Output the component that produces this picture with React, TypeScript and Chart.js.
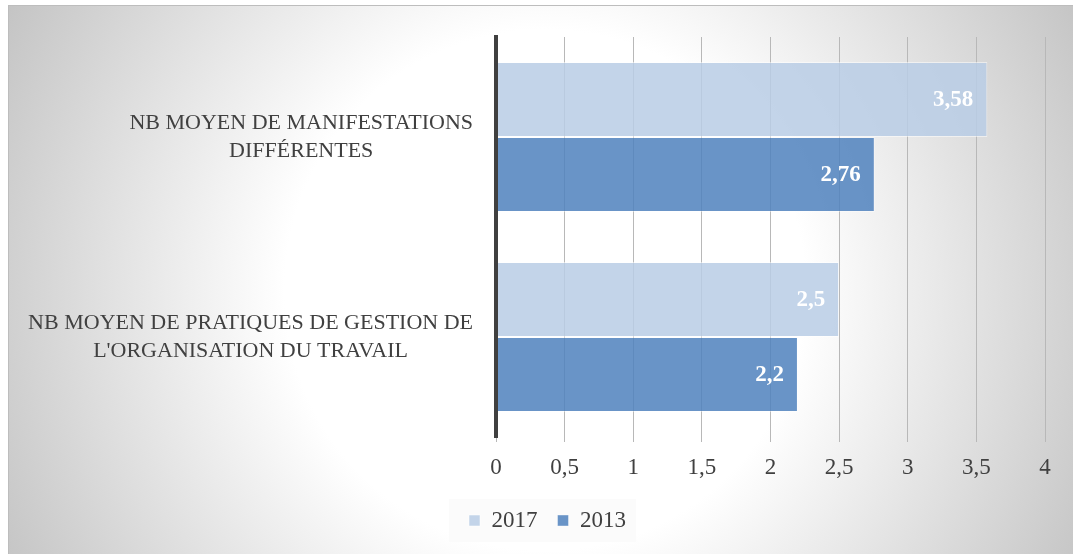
import React, { useEffect, useRef } from "react";
import { Chart, registerables } from "chart.js";

Chart.register(...registerables);

const categories: string[][] = [
  ["NB MOYEN DE MANIFESTATIONS", "DIFFÉRENTES"],
  ["NB MOYEN DE PRATIQUES DE GESTION DE", "L'ORGANISATION DU TRAVAIL"],
];
const seriesLabels = ["2017", "2013"];
const values2017 = [3.58, 2.5];
const values2013 = [2.76, 2.2];
const xTickValues = [0, 0.5, 1, 1.5, 2, 2.5, 3, 3.5, 4];

const FONT = "'Liberation Serif', 'Times New Roman', serif";
const TEXT = "#404040";

const fmt = (v: number) => String(v).replace(".", ",");

const backgroundPlugin = {
  id: "bgPlugin",
  beforeDraw(chart: any) {
    const { ctx, width, height } = chart;
    ctx.save();
    ctx.fillStyle = "#ffffff";
    ctx.fillRect(0, 0, width, height);
    const x0 = 9;
    const y0 = 6;
    const cx = 545;
    const cy = 290;
    const g = ctx.createRadialGradient(cx, cy, 0, cx, cy, 620);
    g.addColorStop(0, "#ffffff");
    g.addColorStop(0.42, "#ffffff");
    g.addColorStop(1, "#c2c2c2");
    ctx.fillStyle = g;
    ctx.fillRect(x0, y0, width - x0, height - y0);
    ctx.strokeStyle = "#bdbdbd";
    ctx.lineWidth = 1;
    ctx.strokeRect(x0 - 0.5, y0 - 0.5, width + 5, height + 5);
    const lg = chart.legend;
    if (lg && lg.legendHitBoxes && lg.legendHitBoxes.length) {
      const hb = lg.legendHitBoxes;
      const last = hb[hb.length - 1];
      const l = hb[0].left - 20;
      const r = last.left + last.width + 10;
      const t = hb[0].top - 10;
      const h = hb[0].height + 20;
      ctx.fillStyle = "rgba(250,250,250,0.8)";
      ctx.fillRect(l, t, r - l, h);
    }
    ctx.restore();
  },
};

const categoryLabelPlugin = {
  id: "catLabels",
  afterDraw(chart: any) {
    const { ctx, chartArea } = chart;
    const yScale = chart.scales.y;
    ctx.save();
    ctx.font = `22px ${FONT}`;
    ctx.fillStyle = TEXT;
    ctx.textBaseline = "middle";
    ctx.textAlign = "center";
    const right = chartArea.left - 23;
    const lh = 28.5;
    (chart.data.labels as any[]).forEach((lab, i) => {
      const lines: string[] = Array.isArray(lab) ? lab : [String(lab)];
      const w = Math.max(...lines.map((l) => ctx.measureText(l).width));
      const cxp = right - w / 2;
      const yc = yScale.getPixelForValue(i);
      lines.forEach((ln, j) => {
        ctx.fillText(ln, cxp, yc + (j - (lines.length - 1) / 2) * lh);
      });
    });
    ctx.restore();
  },
};

const dataLabelPlugin = {
  id: "dataLabels",
  afterDatasetsDraw(chart: any) {
    const { ctx } = chart;
    ctx.save();
    ctx.font = `bold 23px ${FONT}`;
    ctx.fillStyle = "#ffffff";
    ctx.textAlign = "right";
    ctx.textBaseline = "middle";
    chart.data.datasets.forEach((ds: any, di: number) => {
      const meta = chart.getDatasetMeta(di);
      meta.data.forEach((el: any, i: number) => {
        ctx.fillText(fmt(ds.data[i]), el.x - 14, el.y + 1);
      });
    });
    ctx.restore();
  },
};

export default function App() {
  const ref = useRef<HTMLCanvasElement | null>(null);

  useEffect(() => {
    if (!ref.current) return;
    const chart = new Chart(ref.current, {
      type: "bar",
      data: {
        labels: categories as any,
        datasets: [
          {
            label: seriesLabels[0],
            data: values2017,
            backgroundColor: "rgba(185,205,229,0.85)",
            borderColor: "rgba(255,255,255,0.5)",
            borderWidth: 1,
            barPercentage: 1,
            categoryPercentage: 0.75,
          },
          {
            label: seriesLabels[1],
            data: values2013,
            backgroundColor: "rgba(79,129,189,0.85)",
            borderColor: "rgba(255,255,255,0.4)",
            borderWidth: 1,
            barPercentage: 1,
            categoryPercentage: 0.75,
          },
        ],
      },
      options: {
        indexAxis: "y",
        responsive: false,
        animation: false,
        devicePixelRatio: 1,
        layout: { padding: { left: 50, right: 28, top: 37, bottom: 12 } },
        plugins: {
          legend: {
            position: "bottom",
            labels: {
              boxWidth: 11,
              boxHeight: 11,
              padding: 20,
              color: TEXT,
              font: { family: FONT, size: 23 },
            },
          },
          tooltip: { enabled: false },
        },
        scales: {
          x: {
            type: "linear",
            min: 0,
            max: 4,
            afterBuildTicks: (s: any) => {
              s.ticks = xTickValues.map((v) => ({ value: v }));
            },
            afterFit: (s: any) => {
              s.height = 52;
            },
            grid: { color: "#b8b8b8", lineWidth: 1, tickLength: 5, drawTicks: true },
            border: { display: false },
            ticks: {
              color: TEXT,
              font: { family: FONT, size: 23 },
              padding: 12,
              maxRotation: 0,
              autoSkip: false,
              callback: (v: any) => fmt(Number(v)),
            },
          },
          y: {
            afterFit: (s: any) => {
              s.width = 446;
            },
            grid: { display: false },
            border: { display: true, color: "#404040", width: 4, z: 1 },
            ticks: { display: false },
            z: 1,
          },
        },
      } as any,
      plugins: [backgroundPlugin, categoryLabelPlugin, dataLabelPlugin],
    });
    return () => chart.destroy();
  }, []);

  return (
    <div style={{ position: "fixed", left: 0, top: 0, width: 1073, height: 554 }}>
      <canvas ref={ref} width={1073} height={554} />
    </div>
  );
}
